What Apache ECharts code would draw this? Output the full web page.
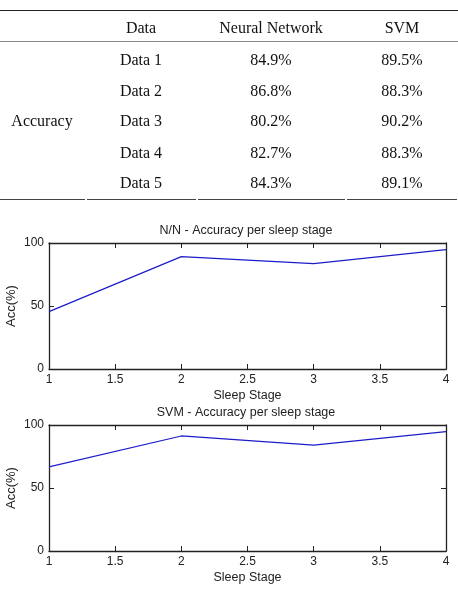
<!DOCTYPE html>
<html>
<head>
<meta charset="utf-8">
<script src="https://cdn.jsdelivr.net/npm/echarts@6/dist/echarts.min.js"></script>
<style>
  html, body { margin: 0; padding: 0; background: #fff; }
  #main { width: 458px; height: 590px; }
</style>
</head>
<body>
<div id="main"></div>
<script>
// table data
const tableHeader = ["", "Data", "Neural Network", "SVM"];
const rowGroup = "Accuracy";
const datasets = ["Data 1", "Data 2", "Data 3", "Data 4", "Data 5"];
const nnAccuracy = ["84.9%", "86.8%", "80.2%", "82.7%", "84.3%"];
const svmAccuracy = ["89.5%", "88.3%", "90.2%", "88.3%", "89.1%"];

// chart data
const sleepStages = [1, 2, 3, 4];
const nnPerStage = [45.5, 89.2, 83.6, 94.7];
const svmPerStage = [66.7, 91.3, 84.1, 94.7];
const chartTitles = ["N/N - Accuracy per sleep stage", "SVM - Accuracy per sleep stage"];

const myChart = echarts.init(document.getElementById("main"));

const serif = "Liberation Serif";
const sans = "Liberation Sans";

// table drawn as graphic elements
const colX = [42, 141, 271, 402];
const headerY = 27;
const rowY = [59, 90, 120.5, 152, 182.5];
const tableText = [];

const cell = (t, x, y) => ({
  type: "text",
  style: { text: t, x: x, y: y + 1.5, align: "center", verticalAlign: "middle",
    font: "16px " + serif, fill: "#111" },
});

tableHeader.forEach((t, i) => {
  if (t) tableText.push(cell(t, colX[i], headerY));
});
tableText.push(cell(rowGroup, colX[0], rowY[2]));
datasets.forEach((d, i) => {
  [d, nnAccuracy[i], svmAccuracy[i]].forEach((t, j) => {
    tableText.push(cell(t, colX[j + 1], rowY[i]));
  });
});

const hline = (x1, x2, y, color, w) => ({
  type: "line",
  shape: { x1: x1, y1: y, x2: x2, y2: y },
  style: { stroke: color, lineWidth: w },
});

const tableLines = [
  hline(0, 458, 10.5, "#222", 1.2),
  hline(0, 458, 41.5, "#888", 1),
  hline(0, 85, 199.5, "#444", 1.2),
  hline(87, 196, 199.5, "#444", 1.2),
  hline(198, 345, 199.5, "#444", 1.2),
  hline(347, 457, 199.5, "#444", 1.2),
];

const grids = [
  { left: 49, top: 243, width: 397, height: 126, outerBoundsMode: "none", containLabel: false },
  { left: 49, top: 425, width: 397, height: 126, outerBoundsMode: "none", containLabel: false },
];

const axisStyle = { onZero: false, lineStyle: { color: "#222", width: 1.3 } };
const tickStyle = { inside: true, length: 5, lineStyle: { color: "#222", width: 1 } };
const labelFont = { fontFamily: sans, fontSize: 12, color: "#222" };

const xAxes = [];
const yAxes = [];
grids.forEach((g, i) => {
  xAxes.push({
    type: "value", gridIndex: i, min: 1, max: 4, interval: 0.5, position: "bottom",
    name: "Sleep Stage", nameLocation: "middle", nameGap: 20, nameMoveOverlap: false,
    nameTextStyle: { fontFamily: sans, fontSize: 12.5, color: "#222" },
    axisLine: axisStyle, axisTick: tickStyle,
    axisLabel: Object.assign({ margin: 5 }, labelFont),
    splitLine: { show: false },
  });
  xAxes.push({
    type: "value", gridIndex: i, min: 1, max: 4, interval: 0.5, position: "top",
    axisLine: axisStyle, axisTick: tickStyle, axisLabel: { show: false },
    splitLine: { show: false },
  });
  yAxes.push({
    type: "value", gridIndex: i, min: 0, max: 100, interval: 50, position: "left",
    name: "Acc(%)", nameLocation: "middle", nameGap: 31, nameMoveOverlap: false,
    nameTextStyle: { fontFamily: sans, fontSize: 13, color: "#222" },
    axisLine: axisStyle, axisTick: tickStyle,
    axisLabel: Object.assign({ margin: 5 }, labelFont),
    splitLine: { show: false },
  });
  yAxes.push({
    type: "value", gridIndex: i, min: 0, max: 100, interval: 50, position: "right",
    axisLine: axisStyle, axisTick: tickStyle, axisLabel: { show: false },
    splitLine: { show: false },
  });
});

const lineSeries = (values, i) => ({
  type: "line",
  xAxisIndex: i * 2,
  yAxisIndex: i * 2,
  data: sleepStages.map((s, k) => [s, values[k]]),
  showSymbol: false,
  lineStyle: { color: "#1c1cc8", width: 1.2 },
  itemStyle: { color: "#1c1cc8" },
});

myChart.setOption({
  animation: false,
  title: chartTitles.map((t, i) => ({
    text: t,
    left: 246, top: grids[i].top - 19,
    padding: 0,
    textAlign: "center",
    textStyle: { fontFamily: sans, fontSize: 12.5, fontWeight: "normal", color: "#222" },
  })),
  grid: grids,
  xAxis: xAxes,
  yAxis: yAxes,
  series: [lineSeries(nnPerStage, 0), lineSeries(svmPerStage, 1)],
  graphic: { elements: tableLines.concat(tableText) },
});
</script>
</body>
</html>
